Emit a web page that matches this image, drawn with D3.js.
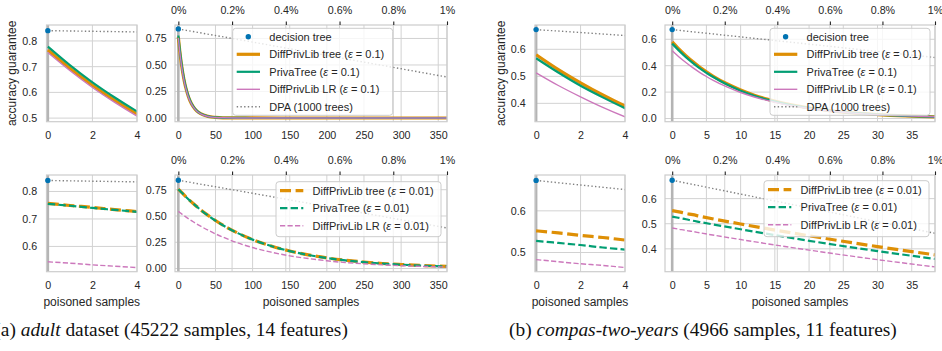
<!DOCTYPE html>
<html><head><meta charset="utf-8">
<script src="https://cdn.jsdelivr.net/npm/d3@7"></script>
<style>
body{margin:0;background:#fff;}
svg{display:block;}
text{font-family:"Liberation Sans",Arial,sans-serif;}
</style>
</head><body>
<svg id="c" width="942" height="351"></svg>
<script>
// ---------------- data ----------------
const pctTicks = [0, 0.2, 0.4, 0.6, 0.8, 1];

// adult dataset
const adultOnePct = 361.8;
const adultDT = 0.840;
const adultDPAX = [0, 4, 50, 100, 150, 200, 250, 300, 362];
const adultDPA  = [0.840, 0.835, 0.778, 0.716, 0.653, 0.590, 0.527, 0.464, 0.386];

const adultX01     = [0,1,2,3,4,6,8,10,13,16,20,25,30,40,50,60,80,100,150,200,250,300,362];
const adultTree01  = [0.765,0.693,0.628,0.569,0.516,0.424,0.348,0.286,0.213,0.158,0.107,0.065,0.040,0.015,0.006,0.002,0.0005,0.0002,0.0001,0,0,0,0];
const adultPriva01 = [0.778,0.705,0.639,0.580,0.526,0.432,0.355,0.292,0.218,0.162,0.110,0.067,0.041,0.015,0.006,0.002,0.0004,0.0001,0,0,0,0,0];
const adultLR01    = [0.755,0.684,0.619,0.561,0.508,0.417,0.342,0.281,0.208,0.155,0.104,0.064,0.039,0.014,0.005,0.002,0.0003,0.0001,0,0,0,0,0];

const adultX001     = [0,1,2,3,4,10,20,30,40,50,60,80,100,125,150,175,200,225,250,275,300,330,362];
const adultTree001  = [0.757,0.749,0.742,0.734,0.727,0.684,0.619,0.559,0.506,0.457,0.413,0.338,0.276,0.215,0.167,0.130,0.101,0.079,0.062,0.048,0.038,0.028,0.021];
const adultPriva001 = [0.755,0.748,0.740,0.733,0.726,0.683,0.618,0.558,0.505,0.456,0.412,0.337,0.275,0.214,0.166,0.129,0.100,0.078,0.061,0.047,0.037,0.027,0.020];
const adultLR001    = [0.544,0.539,0.533,0.528,0.523,0.492,0.445,0.403,0.365,0.330,0.299,0.244,0.200,0.156,0.121,0.095,0.074,0.057,0.045,0.035,0.027,0.020,0.015];

// compas-two-years dataset
const compasOnePct = 38.4;
const compasDT = 0.673;
const compasDPAX = [0, 4, 10, 20, 30, 38.4];
const compasDPA  = [0.673, 0.651, 0.618, 0.563, 0.508, 0.462];

const compasX01     = [0,1,2,3,4,5,6,8,10,12,14,16,18,20,23,26,30,34,38.4];
const compasTree01  = [0.580,0.525,0.476,0.431,0.390,0.354,0.320,0.263,0.216,0.177,0.145,0.119,0.098,0.080,0.060,0.044,0.030,0.020,0.013];
const compasPriva01 = [0.567,0.514,0.465,0.422,0.382,0.346,0.314,0.257,0.211,0.173,0.142,0.117,0.096,0.079,0.059,0.044,0.029,0.020,0.013];
const compasLR01    = [0.513,0.466,0.424,0.385,0.350,0.318,0.289,0.239,0.197,0.163,0.135,0.111,0.092,0.076,0.057,0.043,0.029,0.020,0.013];

const compasX001     = [0,1,2,3,4,10,20,30,38.4];
const compasTree001  = [0.552,0.547,0.541,0.536,0.530,0.499,0.452,0.409,0.376];
const compasPriva001 = [0.528,0.523,0.518,0.512,0.507,0.478,0.432,0.391,0.360];
const compasLR001    = [0.483,0.478,0.473,0.469,0.464,0.437,0.395,0.357,0.328];

// tick values
const smallXTicks = [0, 2, 4];
const adultXTicks = [0, 50, 100, 150, 200, 250, 300, 350];
const compasXTicks = [0, 5, 10, 15, 20, 25, 30, 35];

// ---------------- drawing ----------------
const svg = d3.select("#c");
svg.append("rect").attr("width", 942).attr("height", 351).attr("fill", "#fff");

const COL = {blue:"#0173b2", orange:"#de8f05", green:"#029e73", pink:"#cc78bc", gray:"#808080"};
const TXT = "#262626", GRID = "#d2d2d2", EDGE = "#cccccc";
const TICKFS = 10.7, LABFS = 12, LEGFS = 11;

const STY = {
  tree01:  {color:COL.orange, w:3.2, dash:null},
  priva01: {color:COL.green,  w:2.2, dash:null},
  lr01:    {color:COL.pink,   w:1.4, dash:null},
  tree001: {color:COL.orange, w:3.2, dash:"11,4.6"},
  priva001:{color:COL.green,  w:2.2, dash:"7.4,3.2"},
  lr001:   {color:COL.pink,   w:1.4, dash:"5.2,2.3"},
  dpa:     {color:COL.gray,   w:1.4, dash:"1.4,2.3"}
};

function S(xs, ys, st){ return Object.assign({xs, ys}, st); }

let clipN = 0;
function panel(p){
  const g = svg.append("g");
  const x = d3.scaleLinear().domain(p.xd).range([p.x0, p.x1]);
  const y = d3.scaleLinear().domain(p.yd).range([p.y1, p.y0]);

  // grid
  const grid = g.append("g").attr("stroke", GRID).attr("stroke-width", 1);
  p.yt.forEach(t => grid.append("line").attr("x1", p.x0).attr("x2", p.x1).attr("y1", y(t)).attr("y2", y(t)));
  p.xt.forEach(t => grid.append("line").attr("x1", x(t)).attr("x2", x(t)).attr("y1", p.y0).attr("y2", p.y1));
  let xp = null;
  if (p.pct) {
    xp = d3.scaleLinear().domain([p.xd[0] / p.pct, p.xd[1] / p.pct]).range([p.x0, p.x1]);
    pctTicks.forEach(t => grid.append("line").attr("x1", xp(t)).attr("x2", xp(t)).attr("y1", p.y0).attr("y2", p.y1));
  }
  // zero line
  g.append("line").attr("x1", x(0)).attr("x2", x(0)).attr("y1", p.y0).attr("y2", p.y1)
    .attr("stroke", "#b4b4b4").attr("stroke-width", 2.6);

  // data
  const id = "clip" + (clipN++);
  svg.append("clipPath").attr("id", id).append("rect")
    .attr("x", p.x0).attr("y", p.y0).attr("width", p.x1 - p.x0).attr("height", p.y1 - p.y0);
  const dg = g.append("g").attr("clip-path", `url(#${id})`);
  const line = d3.line().x(d => x(d[0])).y(d => y(d[1])).curve(d3.curveMonotoneX);
  p.series.forEach(s => {
    dg.append("path").attr("d", line(s.xs.map((v, i) => [v, s.ys[i]])))
      .attr("fill", "none").attr("stroke", s.color).attr("stroke-width", s.w)
      .attr("stroke-dasharray", s.dash);
  });

  // frame
  g.append("rect").attr("x", p.x0).attr("y", p.y0).attr("width", p.x1 - p.x0).attr("height", p.y1 - p.y0)
    .attr("fill", "none").attr("stroke", EDGE).attr("stroke-width", 1.2);

  // decision tree point
  g.append("circle").attr("cx", x(0)).attr("cy", y(p.dt)).attr("r", 2.7).attr("fill", COL.blue);

  // bottom axis
  const ax = g.append("g").attr("transform", `translate(0,${p.y1})`)
    .call(d3.axisBottom(x).tickValues(p.xt).tickSize(0).tickPadding(9.7).tickFormat(d3.format("d")));
  ax.select(".domain").remove();
  ax.attr("font-family", null).attr("font-size", null);
  ax.selectAll("text").attr("fill", TXT).style("font-size", TICKFS + "px");

  // left axis
  const ay = g.append("g").attr("transform", `translate(${p.x0},0)`)
    .call(d3.axisLeft(y).tickValues(p.yt).tickSize(0).tickPadding(p.ypad).tickFormat(d3.format(p.yf)));
  ay.select(".domain").remove();
  ay.attr("font-family", null).attr("font-size", null);
  ay.selectAll("text").attr("fill", TXT).style("font-size", TICKFS + "px");

  // top percentage axis
  if (xp) {
    const at = g.append("g").attr("transform", `translate(0,${p.y0})`)
      .call(d3.axisTop(xp).tickValues(pctTicks).tickSize(3.6).tickPadding(7.2)
        .tickFormat(d => (+d.toFixed(1)) + "%"));
    at.select(".domain").remove();
    at.attr("font-family", null).attr("font-size", null);
    at.selectAll("line").attr("stroke", "#222").attr("stroke-width", 1.1);
    at.selectAll("text").attr("fill", TXT).style("font-size", TICKFS + "px");
  }

  if (p.xlabel) {
    g.append("text").attr("x", (p.x0 + p.x1) / 2).attr("y", 306).attr("text-anchor", "middle")
      .attr("fill", TXT).style("font-size", LABFS + "px").text("poisoned samples");
  }
  if (p.ylabel) {
    g.append("text").attr("transform", `translate(${p.ylx},${(p.y0 + p.y1) / 2}) rotate(-90)`)
      .attr("text-anchor", "middle").attr("dy", "0.35em")
      .attr("fill", TXT).style("font-size", LABFS + "px").text("accuracy guarantee");
  }
  if (p.legend) legend(g, p.legend);
}

function legend(g, L){
  const lg = g.append("g");
  lg.append("rect").attr("x", L.x).attr("y", L.y).attr("width", L.w).attr("height", L.h)
    .attr("rx", 3).attr("fill", "#fff").attr("fill-opacity", 0.8)
    .attr("stroke", EDGE).attr("stroke-width", 1);
  L.items.forEach((it, i) => {
    const cy = L.y + L.first + i * 17.5;
    if (it.dot) {
      lg.append("circle").attr("cx", L.x + 15.6).attr("cy", cy).attr("r", 2.7).attr("fill", COL.blue);
    } else {
      lg.append("line").attr("x1", L.x + 4).attr("x2", L.x + 27.3).attr("y1", cy).attr("y2", cy)
        .attr("stroke", it.st.color).attr("stroke-width", it.st.w).attr("stroke-dasharray", it.st.dash);
    }
    const t = lg.append("text").attr("x", L.x + 36.6).attr("y", cy).attr("dy", "0.36em")
      .attr("fill", TXT).style("font-size", LEGFS + "px");
    if (it.eps) {
      t.append("tspan").text(it.label + " (");
      t.append("tspan").attr("font-style", "italic").text("ε");
      t.append("tspan").text(" = " + it.eps + ")");
    } else t.text(it.label);
  });
}

const legTop = [
  {dot:true, label:"decision tree"},
  {st:STY.tree01, label:"DiffPrivLib tree", eps:"0.1"},
  {st:STY.priva01, label:"PrivaTree", eps:"0.1"},
  {st:STY.lr01, label:"DiffPrivLib LR", eps:"0.1"},
  {st:STY.dpa, label:"DPA (1000 trees)"}
];
const legBot = [
  {st:STY.tree001, label:"DiffPrivLib tree", eps:"0.01"},
  {st:STY.priva001, label:"PrivaTree", eps:"0.01"},
  {st:STY.lr001, label:"DiffPrivLib LR", eps:"0.01"}
];

const adultTopSeries = [
  S(adultDPAX, adultDPA, STY.dpa),
  S(adultX01, adultTree01, STY.tree01),
  S(adultX01, adultPriva01, STY.priva01),
  S(adultX01, adultLR01, STY.lr01)
];
const adultBotSeries = [
  S(adultDPAX, adultDPA, STY.dpa),
  S(adultX001, adultTree001, STY.tree001),
  S(adultX001, adultPriva001, STY.priva001),
  S(adultX001, adultLR001, STY.lr001)
];
const compasTopSeries = [
  S(compasDPAX, compasDPA, STY.dpa),
  S(compasX01, compasTree01, STY.tree01),
  S(compasX01, compasPriva01, STY.priva01),
  S(compasX01, compasLR01, STY.lr01)
];
const compasBotSeries = [
  S(compasDPAX, compasDPA, STY.dpa),
  S(compasX001, compasTree001, STY.tree001),
  S(compasX001, compasPriva001, STY.priva001),
  S(compasX001, compasLR001, STY.lr001)
];

const TOP = [25, 121.7], BOT = [175, 271.7];

// adult top small
panel({x0:46.5, x1:137, y0:TOP[0], y1:TOP[1], xd:[-0.06, 4], yd:[0.486, 0.862],
  xt:smallXTicks, yt:[0.5,0.6,0.7,0.8], yf:".1f", ypad:9.3, dt:adultDT,
  series:adultTopSeries, ylabel:true, ylx:11.7});
// adult top large
panel({x0:175, x1:447, y0:TOP[0], y1:TOP[1], xd:[-4.5, adultOnePct], yd:[-0.035, 0.877],
  xt:adultXTicks, yt:[0,0.25,0.5,0.75], yf:".2f", ypad:8.4, dt:adultDT, pct:adultOnePct,
  series:adultTopSeries,
  legend:{x:232.7, y:28.3, w:160, h:87, first:8.5, items:legTop}});
// adult bottom small
panel({x0:46.5, x1:137, y0:BOT[0], y1:BOT[1], xd:[-0.06, 4], yd:[0.508, 0.860],
  xt:smallXTicks, yt:[0.6,0.7,0.8], yf:".1f", ypad:9.3, dt:adultDT,
  series:adultBotSeries, xlabel:true});
// adult bottom large
panel({x0:175, x1:447, y0:BOT[0], y1:BOT[1], xd:[-4.5, adultOnePct], yd:[-0.03, 0.89],
  xt:adultXTicks, yt:[0,0.25,0.5,0.75], yf:".2f", ypad:8.4, dt:adultDT, pct:adultOnePct,
  series:adultBotSeries, xlabel:true,
  legend:{x:276, y:181.7, w:165, h:55, first:9, items:legBot}});

// compas top small
panel({x0:535, x1:625, y0:TOP[0], y1:TOP[1], xd:[-0.05, 4], yd:[0.332, 0.690],
  xt:smallXTicks, yt:[0.4,0.5,0.6], yf:".1f", ypad:9.3, dt:compasDT,
  series:compasTopSeries, ylabel:true, ylx:500.7});
// compas top large
panel({x0:665, x1:935, y0:TOP[0], y1:TOP[1], xd:[-1.05, compasOnePct], yd:[-0.024, 0.708],
  xt:compasXTicks, yt:[0,0.2,0.4,0.6], yf:".1f", ypad:8.4, dt:compasDT, pct:compasOnePct,
  series:compasTopSeries,
  legend:{x:770, y:28.3, w:160, h:87, first:8.5, items:legTop}});
// compas bottom small
panel({x0:535, x1:625, y0:BOT[0], y1:BOT[1], xd:[-0.05, 4], yd:[0.454, 0.686],
  xt:smallXTicks, yt:[0.5,0.6], yf:".1f", ypad:9.3, dt:compasDT,
  series:compasBotSeries, xlabel:true});
// compas bottom large
panel({x0:665, x1:935, y0:BOT[0], y1:BOT[1], xd:[-1.05, compasOnePct], yd:[0.309, 0.694],
  xt:compasXTicks, yt:[0.4,0.5,0.6], yf:".1f", ypad:8.4, dt:compasDT, pct:compasOnePct,
  series:compasBotSeries, xlabel:true,
  legend:{x:764, y:180.7, w:165, h:56, first:9, items:legBot}});

// ---------------- captions ----------------
function caption(prefix, ital, rest){
  const t = svg.append("text").attr("y", 336).attr("fill", "#111")
    .style("font-family", '"Liberation Serif","DejaVu Serif",serif').style("font-size", "17px");
  t.append("tspan").text(prefix);
  t.append("tspan").attr("font-style", "italic").text(ital);
  t.append("tspan").text(rest);
  return t;
}
const capB = caption("(b) ", "compas-two-years", " (4966 samples, 11 features)");
const targetW = 388;
const wB = capB.node().getComputedTextLength();
const fs = 17 * targetW / wB;
capB.style("font-size", fs + "px").attr("x", 509);
const capA = caption("(a) ", "adult", " dataset (45222 samples, 14 features)");
capA.style("font-size", fs + "px").attr("x", 0);
const adultStart = capA.node().getStartPositionOfChar(4).x;
capA.attr("x", 20.7 - adultStart);
</script>
</body></html>
